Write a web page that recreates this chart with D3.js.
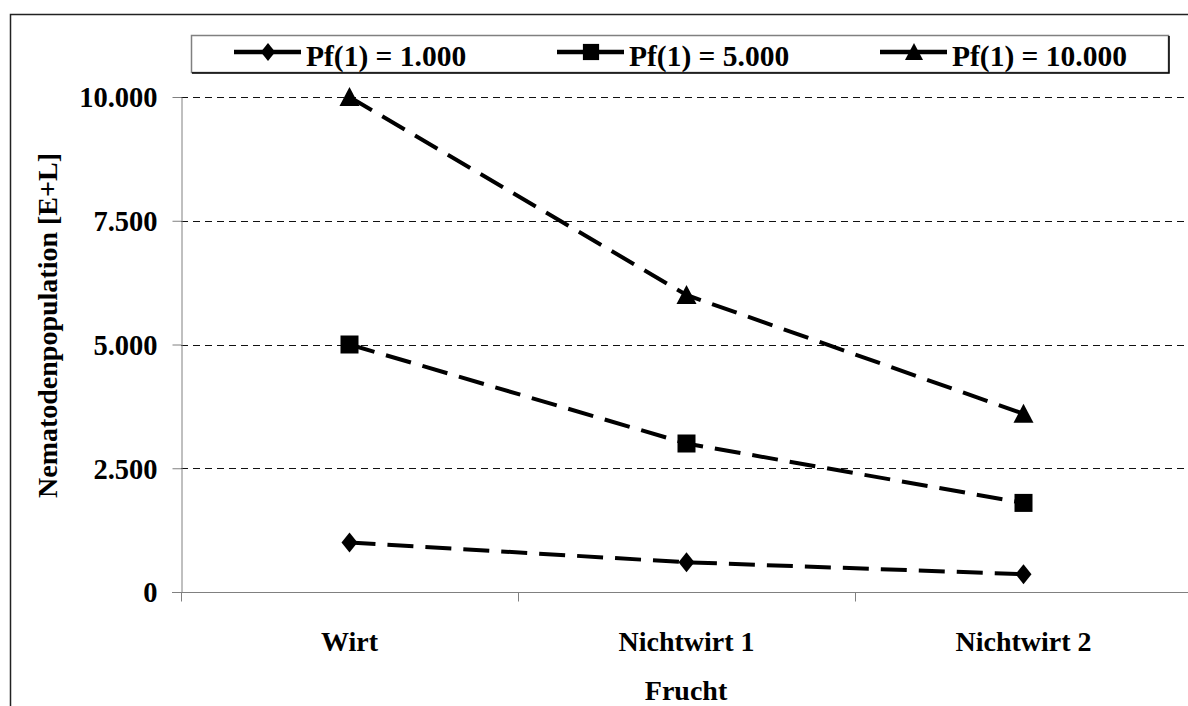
<!DOCTYPE html>
<html>
<head>
<meta charset="utf-8">
<script src="https://cdn.jsdelivr.net/npm/d3@7"></script>
<style>
  body { margin: 0; background: #fff; }
</style>
</head>
<body>
<div id="chart"></div>
<script>
const categories = ["Wirt", "Nichtwirt 1", "Nichtwirt 2"];
const seriesNames = ["Pf(1) = 1.000", "Pf(1) = 5.000", "Pf(1) = 10.000"];
const series1 = [1000, 600, 360];
const series2 = [5000, 3000, 1800];
const series3 = [10000, 6000, 3600];
const yTicks = [0, 2500, 5000, 7500, 10000];
const markerTypes = ["diamond", "square", "triangle"];

const width = 1188, height = 706;
const plot = { left: 181, right: 1192, top: 97, bottom: 592 };

function styleText(sel, size) {
  return sel.style("font-family", "'Liberation Serif'")
    .style("font-weight", "bold")
    .style("font-size", (size || 28) + "px")
    .style("fill", "#000");
}

const svg = d3.select("#chart").append("svg")
  .attr("width", width)
  .attr("height", height);

// outer frame
svg.append("rect")
  .attr("x", 10.5).attr("y", 14.5)
  .attr("width", width).attr("height", height)
  .attr("fill", "none").attr("stroke", "#222").attr("stroke-width", 1.5);

const x = d3.scaleBand()
  .domain(categories)
  .range([plot.left, plot.right]);

const y = d3.scaleLinear()
  .domain([0, 10000])
  .range([plot.bottom, plot.top]);

const fmt = d => d === 0 ? "0" : d3.format(",")(d).replace(/,/g, ".");

// gridlines
svg.append("g").selectAll("line")
  .data(yTicks.filter(d => d > 0))
  .join("line")
  .attr("x1", plot.left).attr("x2", width)
  .attr("y1", d => Math.round(y(d)) + 0.5).attr("y2", d => Math.round(y(d)) + 0.5)
  .attr("stroke", "#111").attr("stroke-width", 1)
  .attr("stroke-dasharray", "7,5");

// y axis
const yAxis = svg.append("g")
  .attr("transform", `translate(${plot.left + 0.5},0)`)
  .call(d3.axisLeft(y).tickValues(yTicks).tickFormat(fmt).tickSize(9).tickSizeOuter(0).tickPadding(15));
yAxis.attr("font-family", null).attr("font-size", null);
yAxis.select(".domain").attr("stroke", "#808080");
yAxis.selectAll(".tick line").attr("stroke", "#808080");
styleText(yAxis.selectAll(".tick text"), 28.5).attr("dy", "0.35em");

// x axis
const xAxis = svg.append("g")
  .attr("transform", `translate(0,${plot.bottom + 0.5})`)
  .call(d3.axisBottom(x).tickSize(0).tickPadding(0));
xAxis.attr("font-family", null).attr("font-size", null);
xAxis.select(".domain").attr("d", `M${plot.left - 9},0H${width}`).attr("stroke", "#808080");
styleText(xAxis.selectAll(".tick text")).attr("dy", null).attr("y", 58);
// category separators
xAxis.append("g").selectAll("line")
  .data(categories)
  .join("line")
  .attr("x1", d => x(d) + 0.5).attr("x2", d => x(d) + 0.5)
  .attr("y1", 0).attr("y2", 9)
  .attr("stroke", "#808080");

// axis titles
styleText(svg.append("text"))
  .attr("transform", `translate(57,${(plot.top + plot.bottom) / 2 - 19}) rotate(-90)`)
  .attr("text-anchor", "middle")
  .text("Nematodenpopulation [E+L]");

styleText(svg.append("text"))
  .attr("x", 686)
  .attr("y", 700)
  .attr("text-anchor", "middle")
  .text("Frucht");

// markers
function drawMarker(g, type, size) {
  if (type === "diamond") {
    g.append("path").attr("d", `M0,${-size}L${size * 0.8},0L0,${size}L${-size * 0.8},0Z`);
  } else if (type === "square") {
    g.append("rect").attr("x", -size * 0.9).attr("y", -size * 0.9).attr("width", size * 1.8).attr("height", size * 1.8);
  } else {
    g.append("path").attr("d", `M0,${-size}L${size},${size * 0.9}L${-size},${size * 0.9}Z`);
  }
}

const allSeries = [series1, series2, series3];
const line = d3.line()
  .x((d, i) => x(categories[i]) + x.bandwidth() / 2)
  .y(d => y(d));

allSeries.forEach((vals, si) => {
  svg.append("path")
    .datum(vals)
    .attr("d", line)
    .attr("fill", "none")
    .attr("stroke", "#000")
    .attr("stroke-width", 4)
    .attr("stroke-dasharray", "26,12");

  svg.append("g").selectAll("g")
    .data(vals)
    .join("g")
    .attr("transform", (d, i) => `translate(${x(categories[i]) + x.bandwidth() / 2},${y(d)})`)
    .attr("fill", "#000")
    .each(function () { drawMarker(d3.select(this), markerTypes[si], 10); });
});

// legend
const legend = svg.append("g");
legend.append("rect")
  .attr("x", 191.5).attr("y", 35.5)
  .attr("width", 977).attr("height", 37)
  .attr("fill", "#fff").attr("stroke", "#808080").attr("stroke-width", 1.5);
legend.append("path")
  .attr("d", "M1169,36V73H192")
  .attr("fill", "none").attr("stroke", "#000").attr("stroke-width", 1.5);

const legendX = [234, 557, 880];
seriesNames.forEach((name, i) => {
  const g = legend.append("g").attr("transform", `translate(${legendX[i]},52)`);
  g.append("line").attr("x1", 0).attr("x2", 67).attr("y1", 0).attr("y2", 0)
    .attr("stroke", "#000").attr("stroke-width", 4.5);
  const m = g.append("g").attr("transform", "translate(34,0)").attr("fill", "#000");
  drawMarker(m, markerTypes[i], 9);
  styleText(g.append("text"), 29.5).attr("x", 72).attr("y", 14).text(name);
});
</script>
</body>
</html>
